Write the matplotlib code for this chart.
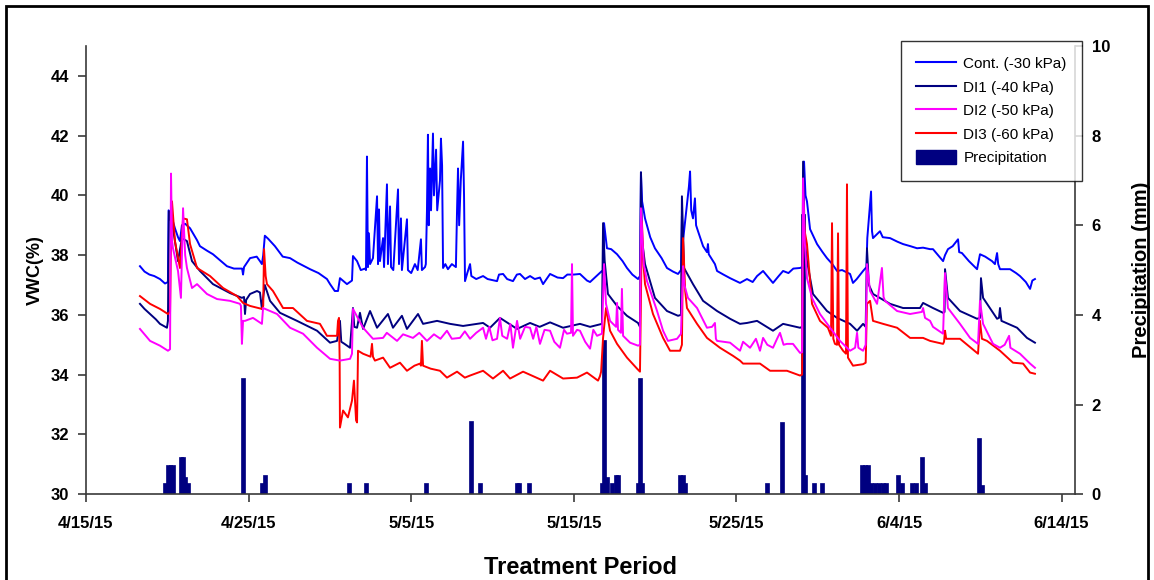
import numpy as np
import matplotlib
matplotlib.use('Agg')
import matplotlib.pyplot as plt
from matplotlib.patches import Rectangle, Patch
from matplotlib.lines import Line2D

plt.rcParams['font.family'] = ['Liberation Sans', 'DejaVu Sans']

# days after 4/15/15, soil water content (%)
cont = [(3.32, 37.63), (3.6, 37.45), (3.9, 37.35), (4.2, 37.3), (4.55, 37.2), (4.86, 37.05), (5.04, 37.1),
        (5.08, 39.5), (5.2, 39.4), (5.47, 38.9), (5.66, 38.6), (5.78, 38.47), (5.9, 39.0), (6.1, 39.05),
        (6.4, 38.9), (6.83, 38.5), (7.01, 38.3), (7.44, 38.15), (7.81, 38.03), (8.3, 37.8), (8.67, 37.63),
        (9.1, 37.55), (9.6, 37.55), (9.66, 37.35), (9.72, 37.6), (10.09, 37.9), (10.5, 37.95), (10.7, 37.8),
        (10.82, 37.7), (10.9, 38.0), (11.0, 38.65), (11.2, 38.55), (11.62, 38.3), (12.1, 37.95), (12.55, 37.9),
        (13.0, 37.75), (13.78, 37.53), (14.3, 37.4), (14.82, 37.2), (15.01, 37.03), (15.3, 36.8), (15.5, 36.8),
        (15.62, 37.23), (16.05, 37.03), (16.36, 37.15), (16.42, 37.97), (16.67, 37.8), (16.9, 37.5),
        (17.16, 37.55), (17.22, 37.5), (17.28, 41.3), (17.34, 37.6), (17.40, 38.73), (17.47, 37.7),
        (17.65, 37.9), (17.90, 39.97), (17.96, 37.7), (18.02, 39.53), (18.08, 37.8), (18.27, 38.57),
        (18.33, 37.6), (18.51, 40.37), (18.57, 37.7), (18.70, 39.63), (18.76, 37.6), (18.9, 37.5),
        (19.19, 40.2), (19.25, 37.7), (19.37, 39.23), (19.43, 37.5), (19.74, 39.2), (19.8, 37.5), (20.0, 37.4),
        (20.23, 37.7), (20.4, 37.5), (20.60, 38.53), (20.66, 37.5), (20.85, 37.6), (20.9, 37.7), (20.97, 39.5),
        (21.03, 42.03), (21.08, 39.0), (21.16, 40.9), (21.22, 39.5), (21.34, 42.07), (21.40, 40.0),
        (21.53, 41.53), (21.6, 39.5), (21.77, 40.5), (21.83, 41.9), (21.9, 41.0), (21.96, 37.57), (22.1, 37.7),
        (22.26, 37.53), (22.5, 37.7), (22.75, 37.6), (22.82, 39.5), (22.88, 40.9), (22.95, 39.0), (23.05, 40.5),
        (23.19, 41.8), (23.25, 40.0), (23.31, 37.13), (23.45, 37.4), (23.62, 37.7), (23.7, 37.3), (24.0, 37.2),
        (24.42, 37.3), (24.7, 37.2), (25.28, 37.13), (25.4, 37.35), (25.65, 37.37), (25.9, 37.2),
        (26.26, 37.13), (26.5, 37.35), (26.69, 37.37), (27.0, 37.2), (27.31, 37.3), (27.6, 37.2),
        (27.92, 37.25), (28.11, 37.03), (28.54, 37.37), (29.0, 37.25), (29.34, 37.23), (29.6, 37.35),
        (30.0, 37.35), (30.38, 37.37), (30.81, 37.15), (31.0, 37.1), (31.4, 37.3), (31.73, 37.47), (31.8, 37.4),
        (31.86, 39.07), (32.04, 38.23), (32.3, 38.2), (32.66, 38.03), (33.0, 37.8), (33.27, 37.57),
        (33.6, 37.35), (33.95, 37.2), (34.07, 37.3), (34.13, 40.77), (34.2, 39.8), (34.38, 39.23), (34.7, 38.6),
        (34.99, 38.23), (35.4, 37.9), (35.73, 37.57), (36.1, 37.45), (36.41, 37.37), (36.59, 37.5),
        (36.65, 39.3), (36.72, 38.5), (36.9, 39.4), (37.08, 40.3), (37.15, 40.8), (37.22, 39.5), (37.33, 39.23),
        (37.45, 39.9), (37.52, 39.0), (37.64, 38.8), (37.95, 38.3), (38.19, 38.1), (38.25, 38.37), (38.3, 38.03),
        (38.68, 37.7), (38.81, 37.47), (39.2, 37.35), (39.61, 37.23), (40.22, 37.07), (40.65, 37.2),
        (41.0, 37.1), (41.27, 37.3), (41.64, 37.47), (41.9, 37.3), (42.25, 37.07), (42.6, 37.3), (42.87, 37.47),
        (43.2, 37.4), (43.5, 37.55), (43.91, 37.57), (44.05, 37.6), (44.16, 41.13), (44.25, 40.0),
        (44.34, 39.8), (44.53, 38.87), (44.96, 38.37), (45.3, 38.1), (45.57, 37.9), (45.9, 37.7),
        (46.19, 37.47), (46.5, 37.5), (46.99, 37.37), (47.17, 37.07), (47.4, 37.2), (47.79, 37.47),
        (48.0, 37.6), (48.05, 38.57), (48.28, 40.13), (48.34, 38.8), (48.40, 38.57), (48.83, 38.8),
        (49.0, 38.6), (49.45, 38.57), (49.9, 38.45), (50.25, 38.37), (50.7, 38.3), (51.11, 38.23),
        (51.48, 38.25), (51.91, 38.2), (52.09, 38.2), (52.4, 38.0), (52.71, 37.8), (52.83, 38.0),
        (53.01, 38.2), (53.3, 38.3), (53.63, 38.53), (53.7, 38.1), (53.87, 38.07), (54.3, 37.8), (54.8, 37.53),
        (54.98, 38.03), (55.3, 37.95), (55.72, 37.8), (55.9, 37.7), (56.03, 38.07), (56.1, 37.7),
        (56.21, 37.53), (56.83, 37.53), (57.2, 37.4), (57.44, 37.3), (57.8, 37.1), (58.06, 36.87),
        (58.2, 37.15), (58.36, 37.2)]

di1 = [(3.32, 36.37), (3.6, 36.2), (3.94, 36.03), (4.3, 35.85), (4.55, 35.7), (4.98, 35.57), (5.04, 35.8),
       (5.10, 39.47), (5.2, 39.2), (5.35, 38.9), (5.66, 37.8), (5.9, 38.57), (6.21, 38.47), (6.52, 37.8),
       (7.01, 37.47), (7.81, 37.03), (8.86, 36.73), (9.59, 36.57), (9.72, 36.6), (9.78, 36.03), (9.85, 36.5),
       (10.09, 36.7), (10.52, 36.8), (10.7, 36.75), (10.82, 36.2), (10.9, 36.6), (11.0, 37.0), (11.32, 36.47),
       (11.93, 36.07), (12.98, 35.8), (14.21, 35.47), (15.01, 35.07), (15.44, 35.13), (15.62, 35.8),
       (15.7, 35.1), (15.9, 35.03), (16.24, 34.9), (16.42, 36.23), (16.5, 35.6), (16.67, 35.57),
       (16.85, 36.07), (17.04, 35.53), (17.47, 36.13), (17.9, 35.57), (18.57, 36.03), (18.88, 35.57),
       (19.43, 35.97), (19.74, 35.53), (20.42, 36.03), (20.73, 35.7), (21.59, 35.8), (22.39, 35.7),
       (23.19, 35.63), (24.42, 35.73), (24.85, 35.57), (25.46, 35.9), (26.51, 35.53), (27.31, 35.73),
       (27.9, 35.6), (28.54, 35.75), (29.34, 35.57), (30.38, 35.7), (31.0, 35.6), (31.73, 35.7),
       (31.80, 39.07), (31.9, 37.8), (32.1, 36.7), (32.66, 36.3), (33.27, 35.97), (33.95, 35.73),
       (34.07, 35.6), (34.13, 40.77), (34.2, 38.5), (34.38, 37.7), (34.99, 36.57), (35.73, 36.13),
       (36.41, 35.97), (36.59, 36.0), (36.65, 39.97), (36.78, 37.57), (37.33, 37.03), (37.95, 36.47),
       (38.81, 36.13), (39.61, 35.87), (40.22, 35.7), (40.65, 35.73), (41.27, 35.8), (42.25, 35.47),
       (42.87, 35.7), (43.91, 35.57), (44.05, 35.6), (44.10, 41.13), (44.2, 38.5), (44.34, 37.8),
       (44.71, 36.7), (45.57, 36.13), (46.19, 35.9), (46.99, 35.7), (47.42, 35.47), (47.79, 35.7),
       (47.95, 35.6), (48.03, 38.23), (48.15, 37.0), (48.40, 36.7), (49.45, 36.37), (50.25, 36.23),
       (51.29, 36.23), (51.48, 36.4), (52.09, 36.23), (52.71, 36.07), (52.8, 36.1), (52.83, 37.53),
       (53.01, 36.57), (53.75, 36.13), (54.80, 35.87), (54.98, 35.9), (55.04, 37.23), (55.17, 36.57),
       (56.03, 35.87), (56.15, 35.9), (56.21, 36.23), (56.3, 35.8), (57.26, 35.57), (57.87, 35.23),
       (58.36, 35.07)]

di2 = [(3.32, 35.53), (3.94, 35.13), (4.55, 34.97), (5.04, 34.8), (5.17, 34.85), (5.23, 40.73), (5.29, 38.5),
       (5.35, 38.23), (5.66, 37.47), (5.84, 36.57), (5.97, 39.57), (6.1, 38.0), (6.21, 37.57), (6.52, 36.9),
       (6.83, 37.03), (7.44, 36.7), (8.06, 36.53), (8.86, 36.47), (9.47, 36.37), (9.53, 36.3), (9.59, 35.03),
       (9.66, 35.8), (9.78, 35.8), (10.27, 35.9), (10.82, 35.7), (10.89, 36.23), (11.75, 36.03),
       (12.55, 35.57), (13.35, 35.37), (14.21, 34.9), (15.01, 34.53), (15.62, 34.47), (16.24, 34.53),
       (16.36, 34.7), (16.42, 36.2), (17.04, 35.57), (17.65, 35.2), (18.27, 35.23), (18.5, 35.4),
       (19.13, 35.13), (19.5, 35.35), (20.11, 35.23), (20.5, 35.4), (20.97, 35.13), (21.4, 35.35),
       (21.8, 35.2), (22.20, 35.47), (22.5, 35.2), (23.0, 35.23), (23.3, 35.45), (23.62, 35.2), (24.0, 35.4),
       (24.42, 35.57), (24.6, 35.2), (24.8, 35.6), (25.0, 35.15), (25.28, 35.2), (25.46, 35.9), (25.6, 35.3),
       (25.9, 35.2), (26.1, 35.7), (26.26, 34.9), (26.51, 35.8), (26.7, 35.2), (27.0, 35.6), (27.31, 35.57),
       (27.5, 35.2), (27.7, 35.6), (27.92, 35.03), (28.2, 35.5), (28.54, 35.47), (28.8, 35.1), (29.15, 34.9),
       (29.4, 35.5), (29.58, 35.37), (29.83, 35.4), (29.89, 37.7), (29.95, 35.3), (30.2, 35.5),
       (30.38, 35.47), (30.7, 35.1), (31.0, 34.87), (31.2, 35.5), (31.43, 35.3), (31.73, 35.37),
       (31.86, 37.7), (31.98, 36.37), (32.23, 35.8), (32.41, 35.7), (32.6, 35.6), (32.66, 36.4),
       (32.72, 35.5), (32.9, 35.4), (32.96, 36.87), (33.03, 35.3), (33.46, 35.07), (33.95, 34.97),
       (34.07, 35.0), (34.13, 39.57), (34.3, 37.7), (34.50, 37.13), (35.12, 36.13), (35.49, 35.47),
       (35.79, 35.13), (36.35, 35.2), (36.59, 35.37), (36.72, 37.63), (36.8, 37.0), (37.02, 36.57),
       (37.58, 36.23), (38.19, 35.57), (38.5, 35.6), (38.68, 35.73), (38.74, 35.2), (38.81, 35.13),
       (39.61, 35.07), (40.22, 34.8), (40.41, 35.1), (40.84, 34.9), (41.2, 35.2), (41.45, 34.8),
       (41.64, 35.23), (41.9, 35.0), (42.25, 34.9), (42.5, 35.2), (42.68, 35.4), (42.9, 35.0),
       (43.11, 35.03), (43.48, 35.03), (43.91, 34.73), (44.04, 34.75), (44.10, 40.57), (44.2, 38.5),
       (44.34, 37.23), (44.65, 36.57), (45.14, 36.03), (45.76, 35.57), (46.37, 35.13), (46.99, 34.8),
       (47.3, 34.9), (47.42, 35.4), (47.5, 34.9), (47.79, 34.8), (47.95, 35.0), (48.03, 37.7), (48.22, 36.8),
       (48.65, 36.37), (48.95, 37.57), (49.05, 36.6), (49.14, 36.47), (49.88, 36.13), (50.68, 36.03),
       (51.41, 36.1), (51.48, 36.23), (51.6, 35.9), (51.91, 35.8), (52.09, 35.6), (52.71, 35.37),
       (52.83, 37.4), (53.01, 36.23), (53.75, 35.7), (54.37, 35.23), (54.86, 35.03), (54.98, 36.47),
       (55.17, 35.7), (55.78, 35.03), (56.21, 34.9), (56.5, 35.0), (56.77, 35.3), (56.85, 34.9),
       (57.44, 34.7), (58.06, 34.37), (58.36, 34.23)]

di3 = [(3.32, 36.63), (3.94, 36.37), (4.55, 36.2), (5.04, 36.03), (5.17, 36.1), (5.23, 38.5), (5.29, 39.8),
       (5.47, 38.47), (5.78, 37.57), (5.97, 39.23), (6.21, 39.2), (6.40, 38.37), (6.83, 37.57), (7.63, 37.3),
       (8.43, 36.9), (9.29, 36.63), (9.66, 36.4), (10.09, 36.3), (10.82, 36.2), (10.90, 36.3), (10.95, 38.2),
       (11.05, 37.3), (11.13, 37.03), (11.50, 36.8), (12.12, 36.23), (12.73, 36.23), (13.59, 35.8),
       (14.39, 35.7), (14.82, 35.3), (15.44, 35.3), (15.50, 35.8), (15.56, 35.9), (15.60, 34.5),
       (15.62, 32.23), (15.81, 32.8), (16.11, 32.57), (16.36, 33.13), (16.48, 33.8), (16.61, 32.47),
       (16.67, 32.4), (16.73, 34.8), (17.04, 34.7), (17.5, 34.6), (17.59, 35.03), (17.65, 34.6),
       (17.77, 34.47), (18.27, 34.57), (18.70, 34.23), (19.31, 34.4), (19.74, 34.13), (20.2, 34.3),
       (20.54, 34.37), (20.60, 34.3), (20.66, 35.13), (20.73, 34.3), (21.2, 34.2), (21.77, 34.13),
       (22.20, 33.9), (22.82, 34.1), (23.3, 33.9), (23.62, 33.97), (24.42, 34.13), (25.03, 33.87),
       (25.65, 34.13), (26.08, 33.87), (26.88, 34.1), (27.49, 33.95), (28.11, 33.8), (28.54, 34.13),
       (29.34, 33.87), (30.20, 33.9), (30.81, 34.07), (31.49, 33.8), (31.61, 33.95), (31.68, 34.1),
       (31.80, 35.23), (31.98, 36.23), (32.23, 35.47), (32.66, 35.03), (33.27, 34.57), (33.89, 34.2),
       (34.07, 34.1), (34.19, 39.13), (34.3, 37.6), (34.38, 37.03), (34.87, 36.03), (35.49, 35.23),
       (35.92, 34.8), (36.53, 34.8), (36.65, 35.0), (36.72, 38.57), (36.85, 36.8), (36.96, 36.23),
       (37.58, 35.7), (38.19, 35.23), (38.99, 34.9), (39.79, 34.63), (40.22, 34.47), (40.41, 34.37),
       (41.45, 34.37), (42.07, 34.13), (43.11, 34.13), (43.91, 33.97), (44.04, 34.0), (44.10, 39.9),
       (44.2, 38.8), (44.34, 38.37), (44.65, 36.37), (45.14, 35.8), (45.63, 35.57), (45.82, 35.3),
       (45.88, 39.07), (45.96, 35.2), (46.06, 35.03), (46.19, 35.0), (46.25, 38.73), (46.31, 35.0),
       (46.56, 34.8), (46.74, 34.7), (46.80, 40.37), (46.86, 34.57), (47.17, 34.3), (47.79, 34.35),
       (47.95, 34.4), (48.03, 36.37), (48.22, 36.47), (48.40, 35.8), (49.02, 35.7), (49.88, 35.57),
       (50.68, 35.23), (51.48, 35.23), (51.91, 35.13), (52.71, 35.03), (52.77, 35.1), (52.83, 35.47),
       (52.9, 35.2), (53.75, 35.2), (54.86, 34.7), (54.98, 35.8), (55.1, 35.2), (55.41, 35.13),
       (56.21, 34.8), (57.01, 34.4), (57.63, 34.37), (58.06, 34.07), (58.36, 34.03)]

# rainfall events (mm)
precip_day = [4.86, 5.04, 5.2, 5.35, 5.84, 5.97, 6.09, 6.27, 9.66, 10.82, 11.0, 16.17, 17.22, 20.91,
              23.68, 24.23, 26.51, 26.63, 27.24, 31.73, 31.86, 32.04, 32.35, 32.6, 32.72, 33.95, 34.07,
              34.2, 36.53, 36.72, 36.84, 41.88, 42.8, 44.1, 44.22, 44.77, 45.26, 47.72, 47.9, 48.09,
              48.28, 48.52, 48.77, 49.02, 49.2, 49.94, 50.18, 50.8, 51.05, 51.41, 51.6, 54.92, 55.1]
precip_mm = [0.25, 0.65, 0.65, 0.65, 0.83, 0.83, 0.38, 0.25, 2.6, 0.25, 0.42, 0.25, 0.25, 0.25,
             1.63, 0.25, 0.25, 0.25, 0.25, 0.25, 3.44, 0.38, 0.25, 0.42, 0.42, 0.25, 2.6,
             0.25, 0.42, 0.42, 0.25, 0.25, 1.6, 6.25, 0.42, 0.25, 0.25, 0.65, 0.65, 0.65,
             0.25, 0.25, 0.25, 0.25, 0.25, 0.42, 0.25, 0.25, 0.25, 0.83, 0.25, 1.25, 0.2]

tick_days = [0, 10, 20, 30, 40, 50, 60]
tick_labels = ['4/15/15', '4/25/15', '5/5/15', '5/15/15', '5/25/15', '6/4/15', '6/14/15']

series = [('Cont. (-30 kPa)', cont, '#0000FF'),
          ('DI1 (-40 kPa)', di1, '#000080'),
          ('DI2 (-50 kPa)', di2, '#FF00FF'),
          ('DI3 (-60 kPa)', di3, '#FF0000')]

fig = plt.figure(figsize=(11.54, 5.8), dpi=100)
ax = fig.add_axes([0.0745, 0.148, 0.857, 0.7727])
ax2 = ax.twinx()
ax.set_zorder(ax2.get_zorder() + 1)
ax.patch.set_visible(False)

ax2.bar(precip_day, precip_mm, width=0.22, color='#000080', edgecolor='#000080', linewidth=0.5)

for name, pts, col in [series[0], series[1], series[3], series[2]]:
    d = np.array(pts)
    ax.plot(d[:, 0], d[:, 1], color=col, lw=1.4)

axis_col = '#3a3a3a'
ax.set_xlim(0, 60.82)
ax.set_ylim(30, 45)
ax.set_yticks(np.arange(30, 45, 2))
ax.set_xticks(tick_days)
ax.set_xticklabels(tick_labels)
ax2.set_ylim(0, 10)
ax2.set_yticks(np.arange(0, 11, 2))

for a in (ax, ax2):
    a.spines['top'].set_visible(False)
    for s in a.spines.values():
        s.set_color(axis_col)
        s.set_linewidth(1.2)
ax.spines['right'].set_visible(False)
ax2.spines['left'].set_visible(False)
ax2.spines['bottom'].set_visible(False)

ax.tick_params(axis='both', direction='out', length=6, width=1.2, color=axis_col, labelsize=12)
ax.tick_params(axis='y', pad=6)
ax.tick_params(axis='x', pad=10)
ax2.tick_params(axis='y', direction='out', length=6, width=1.2, color=axis_col, labelsize=12, pad=6)
for lab in ax.get_xticklabels() + ax.get_yticklabels() + ax2.get_yticklabels():
    lab.set_fontweight('bold')

ax.set_ylabel('VWC(%)', fontsize=13, fontweight='bold', labelpad=5)
ax2.set_ylabel('Precipitation (mm)', fontsize=14.5, fontweight='bold', labelpad=16)
ax.set_xlabel('Treatment Period', fontsize=17, fontweight='bold', labelpad=18)

handles = [Line2D([], [], color=c, lw=1.5) for _, _, c in series]
handles.append(Patch(facecolor='#000080', edgecolor='#000080'))
labels = [n for n, _, _ in series] + ['Precipitation']
leg = ax.legend(handles, labels, loc='upper right', bbox_to_anchor=(1082 / 1154, 1 - 41 / 580),
                bbox_transform=fig.transFigure, fontsize=11, frameon=True, fancybox=False,
                edgecolor='black', handlelength=2.6, handleheight=1.0, labelspacing=0.55,
                borderpad=1.0, handletextpad=0.5, borderaxespad=0)
leg.get_frame().set_linewidth(1.0)

fig.patches.append(Rectangle((6 / 1154, -0.05), (1148 - 6) / 1154, 1.05 - 6 / 580,
                             transform=fig.transFigure, fill=False, edgecolor='black', lw=2))

fig.savefig('out.png', dpi=100)
